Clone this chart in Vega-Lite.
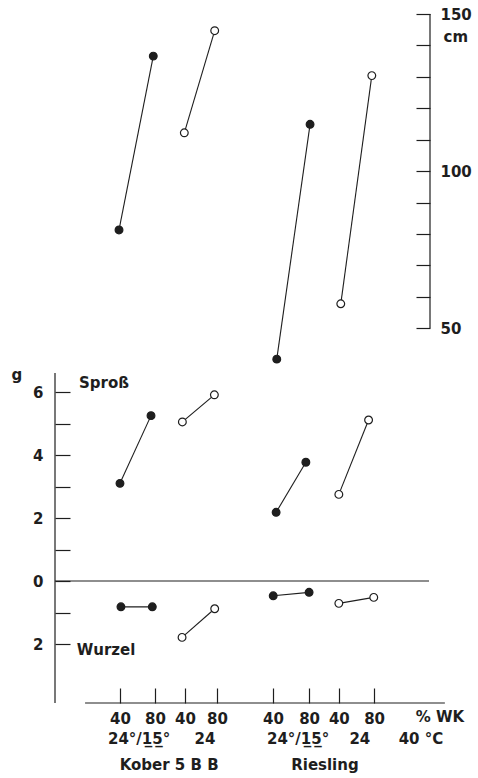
{
  "$schema": "https://vega.github.io/schema/vega-lite/v6.json",
  "width": 375,
  "height": 689,
  "autosize": {"type": "none"},
  "padding": {"left": 55, "top": 14, "right": 48, "bottom": 75},
  "background": "white",
  "config": {
    "view": {"stroke": null},
    "axis": {"grid": false, "domain": false, "labelFont": "DejaVu Sans", "labelFontWeight": "bold", "labelFontSize": 15, "labelColor": "#1e1e1e", "tickColor": "#1e1e1e", "tickWidth": 1.2, "labelOverlap": false, "labelFlush": false},
    "text": {"font": "DejaVu Sans", "fontWeight": "bold", "fontSize": 15, "color": "#1e1e1e"}
  },
  "datasets": {
    "height": [
      {"cultivar": "Kober 5BB", "temp": "24/15", "wk": 40, "series": "K-24/15", "pos": 0.97, "cm": 81.3},
      {"cultivar": "Kober 5BB", "temp": "24/15", "wk": 80, "series": "K-24/15", "pos": 2.03, "cm": 136.6},
      {"cultivar": "Kober 5BB", "temp": "24", "wk": 40, "series": "K-24", "pos": 2.99, "cm": 112.2},
      {"cultivar": "Kober 5BB", "temp": "24", "wk": 80, "series": "K-24", "pos": 3.93, "cm": 144.7},
      {"cultivar": "Riesling", "temp": "24/15", "wk": 40, "series": "R-24/15", "pos": 5.85, "cm": 40.2},
      {"cultivar": "Riesling", "temp": "24/15", "wk": 80, "series": "R-24/15", "pos": 6.88, "cm": 114.9},
      {"cultivar": "Riesling", "temp": "24", "wk": 40, "series": "R-24", "pos": 7.83, "cm": 57.8},
      {"cultivar": "Riesling", "temp": "24", "wk": 80, "series": "R-24", "pos": 8.79, "cm": 130.4}
    ],
    "mass": [
      {"organ": "Spross", "temp": "24/15", "wk": 40, "series": "SK-24/15", "pos": 1.0, "g": 3.10},
      {"organ": "Spross", "temp": "24/15", "wk": 80, "series": "SK-24/15", "pos": 1.96, "g": 5.25},
      {"organ": "Spross", "temp": "24", "wk": 40, "series": "SK-24", "pos": 2.93, "g": 5.05},
      {"organ": "Spross", "temp": "24", "wk": 80, "series": "SK-24", "pos": 3.92, "g": 5.91},
      {"organ": "Spross", "temp": "24/15", "wk": 40, "series": "SR-24/15", "pos": 5.83, "g": 2.18},
      {"organ": "Spross", "temp": "24/15", "wk": 80, "series": "SR-24/15", "pos": 6.75, "g": 3.77},
      {"organ": "Spross", "temp": "24", "wk": 40, "series": "SR-24", "pos": 7.77, "g": 2.75},
      {"organ": "Spross", "temp": "24", "wk": 80, "series": "SR-24", "pos": 8.69, "g": 5.11},
      {"organ": "Wurzel", "temp": "24/15", "wk": 40, "series": "WK-24/15", "pos": 1.03, "g": -0.82},
      {"organ": "Wurzel", "temp": "24/15", "wk": 80, "series": "WK-24/15", "pos": 2.0, "g": -0.82},
      {"organ": "Wurzel", "temp": "24", "wk": 40, "series": "WK-24", "pos": 2.92, "g": -1.79},
      {"organ": "Wurzel", "temp": "24", "wk": 80, "series": "WK-24", "pos": 3.93, "g": -0.88},
      {"organ": "Wurzel", "temp": "24/15", "wk": 40, "series": "WR-24/15", "pos": 5.74, "g": -0.47},
      {"organ": "Wurzel", "temp": "24/15", "wk": 80, "series": "WR-24/15", "pos": 6.85, "g": -0.36},
      {"organ": "Wurzel", "temp": "24", "wk": 40, "series": "WR-24", "pos": 7.77, "g": -0.71},
      {"organ": "Wurzel", "temp": "24", "wk": 80, "series": "WR-24", "pos": 8.85, "g": -0.52}
    ],
    "massLines": [
      {"what": "zero line", "pos": -1.01, "pos2": 10.56, "g": 0},
      {"what": "x axis line", "pos": -0.08, "pos2": 11.05, "g": -3.873}
    ],
    "massAxis": [
      {"what": "g axis line", "pos": -1.01, "g": -3.873, "g2": 6.6}
    ],
    "massTexts": [
      {"label": "g", "pos": -2.19, "g": 6.54},
      {"label": "Sproß", "pos": 0.505, "g": 6.29},
      {"label": "Wurzel", "pos": 0.567, "g": -2.19},
      {"label": "% WK", "pos": 10.9, "g": -4.32},
      {"label": "24°/1\u03325\u0332°", "pos": 1.59, "g": -5.02},
      {"label": "24", "pos": 3.63, "g": -5.02},
      {"label": "24°/1\u03325\u0332°", "pos": 6.51, "g": -5.02},
      {"label": "24", "pos": 8.42, "g": -5.02},
      {"label": "40 °C", "pos": 10.31, "g": -5.02},
      {"label": "Kober 5 B B", "pos": 2.52, "g": -5.84},
      {"label": "Riesling", "pos": 7.34, "g": -5.84}
    ],
    "cmAxis": [
      {"what": "cm axis line", "pos": 10.59, "cm": 50, "cm2": 150}
    ],
    "cmTexts": [
      {"label": "cm", "pos": 11.39, "cm": 142.7}
    ]
  },
  "encoding": {
    "x": {
      "field": "pos", "type": "quantitative",
      "scale": {"domain": [-1.01, 10.59], "nice": false, "zero": false},
      "axis": {
        "orient": "bottom", "title": null,
        "values": [1, 2.08, 3.01, 4, 5.73, 6.85, 7.77, 8.86],
        "labelExpr": "indexof([1, 3.01, 5.73, 7.77], datum.value) >= 0 ? '40' : '80'",
        "tickSize": -15, "labelPadding": 23
      }
    }
  },
  "layer": [
    {
      "encoding": {
        "y": {
          "field": "g", "type": "quantitative",
          "scale": {"domain": [-3.873, 18.0], "nice": false, "zero": false},
          "axis": {
            "orient": "left", "title": null,
            "values": [-2, -1, 0, 1, 2, 3, 4, 5, 6],
            "labelExpr": "datum.value % 2 === 0 ? '' + abs(datum.value) : ''",
            "tickSize": -15, "labelPadding": 27
          }
        }
      },
      "layer": [
        {
          "data": {"name": "massLines"},
          "mark": {"type": "rule", "color": "#1e1e1e", "strokeWidth": 1.2},
          "encoding": {"x2": {"field": "pos2"}}
        },
        {
          "data": {"name": "massAxis"},
          "mark": {"type": "rule", "color": "#1e1e1e", "strokeWidth": 1.2},
          "encoding": {"y2": {"field": "g2"}}
        },
        {
          "data": {"name": "mass"},
          "mark": {"type": "line", "color": "#1e1e1e", "strokeWidth": 1.1},
          "encoding": {"detail": {"field": "series"}}
        },
        {
          "data": {"name": "mass"},
          "mark": {"type": "point", "shape": "circle", "filled": true, "size": 60, "stroke": "#1e1e1e", "strokeWidth": 1.2, "opacity": 1},
          "encoding": {
            "fill": {"field": "temp", "type": "nominal", "scale": {"domain": ["24/15", "24"], "range": ["#1e1e1e", "#ffffff"]}, "legend": null}
          }
        },
        {
          "data": {"name": "massTexts"},
          "mark": {"type": "text", "align": "center", "baseline": "middle"},
          "encoding": {"text": {"field": "label"}}
        }
      ]
    },
    {
      "encoding": {
        "y": {
          "field": "cm", "type": "quantitative",
          "scale": {"domain": [-69.2, 150], "nice": false, "zero": false},
          "axis": {
            "orient": "right", "title": null,
            "values": [50, 60, 70, 80, 90, 100, 110, 120, 130, 140, 150],
            "labelExpr": "datum.value % 50 === 0 ? '' + datum.value : ''",
            "tickSize": -14, "labelPadding": 24
          }
        }
      },
      "layer": [
        {
          "data": {"name": "cmAxis"},
          "mark": {"type": "rule", "color": "#1e1e1e", "strokeWidth": 1.2},
          "encoding": {"y2": {"field": "cm2"}}
        },
        {
          "data": {"name": "height"},
          "mark": {"type": "line", "color": "#1e1e1e", "strokeWidth": 1.1},
          "encoding": {"detail": {"field": "series"}}
        },
        {
          "data": {"name": "height"},
          "mark": {"type": "point", "shape": "circle", "filled": true, "size": 60, "stroke": "#1e1e1e", "strokeWidth": 1.2, "opacity": 1},
          "encoding": {
            "fill": {"field": "temp", "type": "nominal", "scale": {"domain": ["24/15", "24"], "range": ["#1e1e1e", "#ffffff"]}, "legend": null}
          }
        },
        {
          "data": {"name": "cmTexts"},
          "mark": {"type": "text", "align": "center", "baseline": "middle"},
          "encoding": {"text": {"field": "label"}}
        }
      ]
    }
  ],
  "resolve": {"scale": {"y": "independent"}}
}
